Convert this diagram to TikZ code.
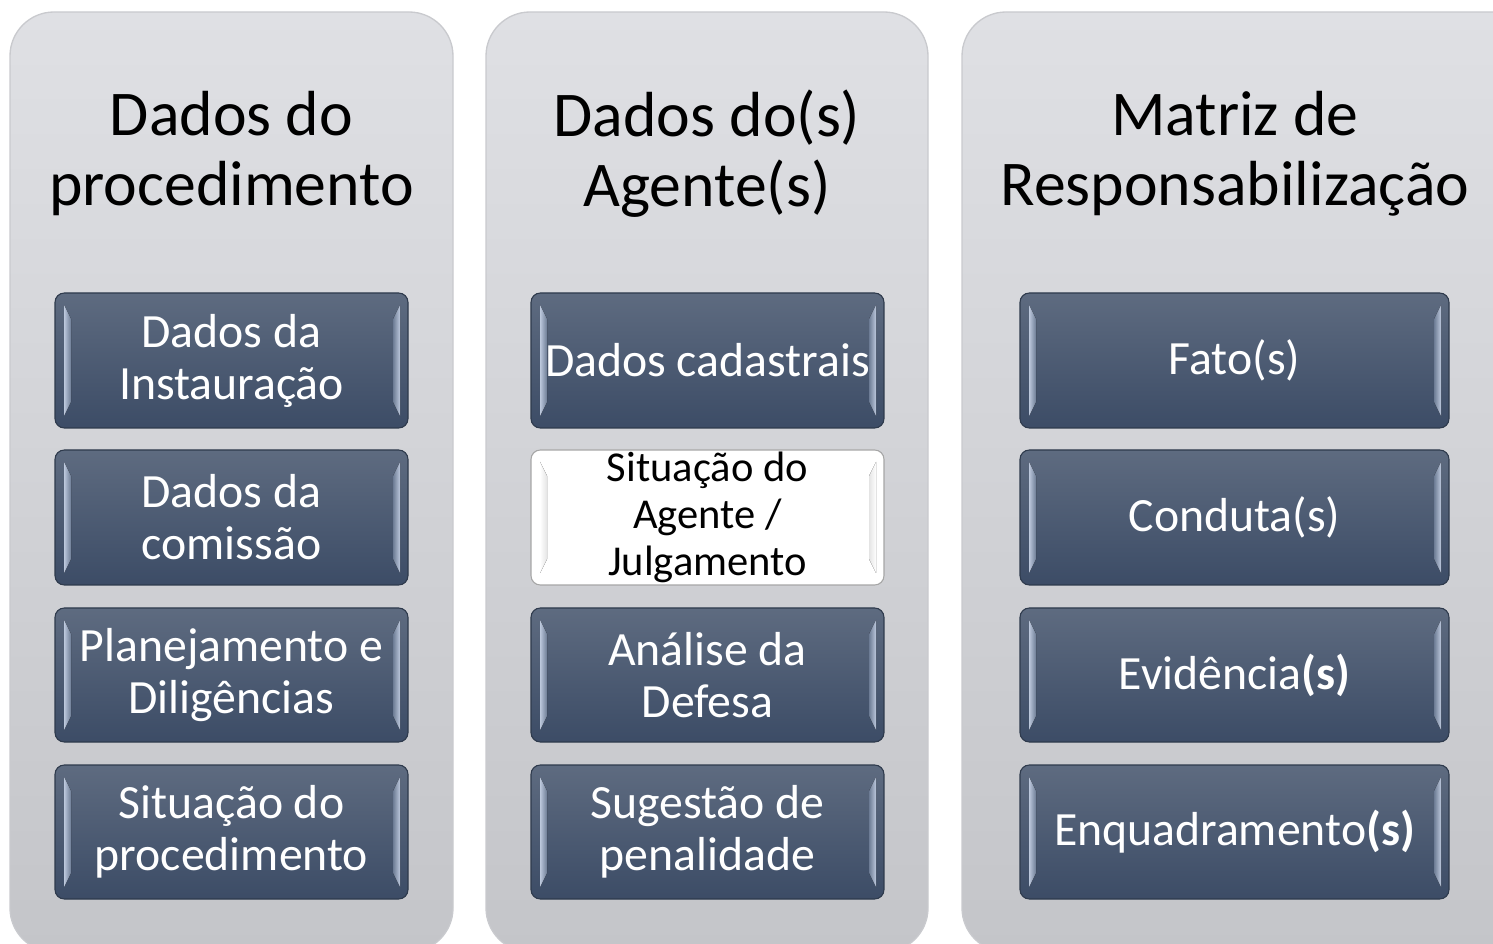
\documentclass[tikz,border=0pt]{standalone}
\usepackage{fontspec}
\setmainfont{Carlito}
\definecolor{panelTop}{HTML}{DFE0E4}
\definecolor{panelBot}{HTML}{C4C5C9}
\definecolor{panelEdge}{HTML}{C9CACE}
\definecolor{boxTop}{HTML}{5E6B80}
\definecolor{boxBot}{HTML}{3C4C66}
\definecolor{boxEdge}{HTML}{2E3A4C}
\definecolor{bevA}{HTML}{BCC8DC}
\definecolor{bevB}{HTML}{6D7C95}
\definecolor{whA}{HTML}{FFFFFF}
\definecolor{whB}{HTML}{E4E4E4}
\tikzset{
  titletext/.style={font=\fontsize{47.8}{52.5}\selectfont, align=center, text=black, inner sep=0pt},
  boxtext/.style={font=\fontsize{35.8}{39}\selectfont, align=center, text=white, inner sep=0pt},
  whitetext/.style={font=\fontsize{31.9}{35.3}\selectfont, align=center, text=black, inner sep=0pt},
  panelshape/.style={top color=panelTop, bottom color=panelBot, draw=panelEdge, line width=1pt, rounded corners=33pt},
  boxshape/.style={top color=boxTop, bottom color=boxBot, draw=boxEdge, line width=0.8pt, rounded corners=7pt},
  whiteshape/.style={top color=white, bottom color=white, draw=gray!70, line width=0.8pt, rounded corners=7pt},
}
% #1 name, #2 x1, #3 y1, #4 x2, #5 y2, #6 light bevel, #7 dark bevel, #8 shape style
\newcommand\mybox[8]{%
  \shade[#8] (#2,#3) rectangle (#4,#5);
  \fill[left color=#6, right color=#7]
    ({#2+9},{#3+12}) -- ({#2+16},{#3+26}) -- ({#2+16},{#5-26}) -- ({#2+9},{#5-12}) -- cycle;
  \fill[right color=#6, left color=#7]
    ({#4-8},{#3+12}) -- ({#4-15},{#3+26}) -- ({#4-15},{#5-26}) -- ({#4-8},{#5-12}) -- cycle;
  \node (#1) at ({(#2+#4)/2},{(#3+#5)/2}) {};
}
\begin{document}
\begin{tikzpicture}[x=0.75pt,y=-0.75pt]
\useasboundingbox (0,0) rectangle (1493,944);
\clip (0,0) rectangle (1493,944);

% panels
\shade[panelshape] (10,12) rectangle (453,952);
\shade[panelshape] (486,12) rectangle (928,952);
\shade[panelshape] (962,12) rectangle (1540,952);

% titles
\node[titletext] (t1) at (231.5,154) {Dados do\\procedimento};
\node[titletext] (t2) at (707,154) {Dados do(s)\\Agente(s)};
\node[titletext] (t3) at (1235,154) {Matriz de\\Responsabilização};

% column 1
\mybox{a1}{55}{293}{408}{428}{bevA}{bevB}{boxshape}
\mybox{a2}{55}{450}{408}{585}{bevA}{bevB}{boxshape}
\mybox{a3}{55}{608}{408}{742}{bevA}{bevB}{boxshape}
\mybox{a4}{55}{765}{408}{899}{bevA}{bevB}{boxshape}
\node[boxtext] at (a1) {Dados da\\Instauração};
\node[boxtext] at (a2) {Dados da\\comissão};
\node[boxtext] at (a3) {Planejamento e\\Diligências};
\node[boxtext] at (a4) {Situação do\\procedimento};

% column 2
\mybox{b1}{531}{293}{884}{428}{bevA}{bevB}{boxshape}
\mybox{b2}{531}{450}{884}{585}{whA}{whB}{whiteshape}
\mybox{b3}{531}{608}{884}{742}{bevA}{bevB}{boxshape}
\mybox{b4}{531}{765}{884}{899}{bevA}{bevB}{boxshape}
\node[boxtext] at (b1) {Dados cadastrais};
\node[whitetext] at (b2) {Situação do\\Agente /\\Julgamento};
\node[boxtext] at (b3) {Análise da\\Defesa};
\node[boxtext] at (b4) {Sugestão de\\penalidade};

% column 3
\mybox{c1}{1020}{293}{1449}{428}{bevA}{bevB}{boxshape}
\mybox{c2}{1020}{450}{1449}{585}{bevA}{bevB}{boxshape}
\mybox{c3}{1020}{608}{1449}{742}{bevA}{bevB}{boxshape}
\mybox{c4}{1020}{765}{1449}{899}{bevA}{bevB}{boxshape}
\node[boxtext] at (c1) {Fato(s)};
\node[boxtext] at (c2) {Conduta(s)};
\node[boxtext] at (c3) {Evidência\textbf{(s)}};
\node[boxtext] at (c4) {Enquadramento\textbf{(s)}};
\end{tikzpicture}
\end{document}
